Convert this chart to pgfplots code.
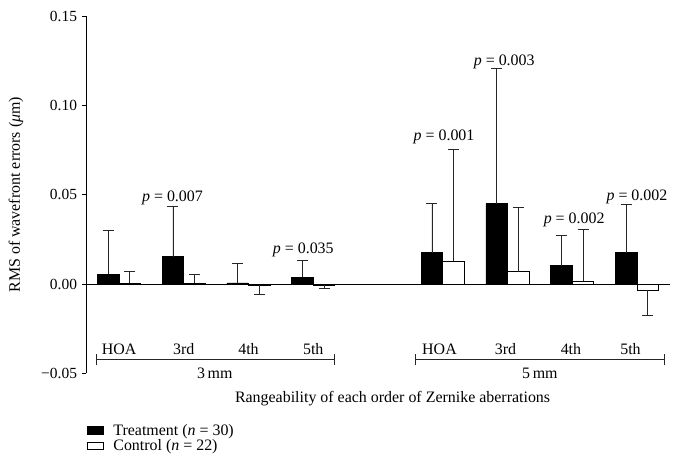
\documentclass[border=0pt]{standalone}
\usepackage{fontspec}
\setmainfont{Liberation Serif}
\usepackage{pgfplots}
\usepackage{pgfplotstable}
\pgfplotsset{compat=1.18}

% x = category position (3 mm: 0-3, 5 mm: 5-8) shifted to bar centre
\pgfplotstableread{
x y e
-0.1667 0.0055 0.0245
0.8333 0.0153 0.0280
1.8333 0.0006 0.0110
2.8333 0.0039 0.0091
4.8333 0.0175 0.0275
5.8333 0.0450 0.0756
6.8333 0.0103 0.0170
7.8333 0.0175 0.0271
}\treatment

\pgfplotstableread{
x y e
0.1667 0.0005 0.0065
1.1667 0.0003 0.0053
5.1667 0.0127 0.0629
6.1667 0.0069 0.0361
7.1667 0.0017 0.0287
}\controlpos

\pgfplotstableread{
x y e
2.1667 -0.0008 0.0052
3.1667 -0.0005 0.0019
8.1667 -0.0035 0.0143
}\controlneg

\begin{document}
\begin{tikzpicture}
\begin{axis}[
  at={(0,0)}, anchor=south west,
  scale only axis,
  width=584bp, height=357.2bp,
  xmin=-0.51, xmax=8.51,
  ymin=-0.05, ymax=0.15,
  axis x line=none,
  axis y line*=left,
  ytick={-0.05,0,0.05,0.10,0.15},
  yticklabels={−0.05,0.00,0.05,0.10,0.15},
  tick align=outside,
  major tick length=4bp,
  ytick pos=left,
  yticklabel style={font=\fontsize{15.5}{17}\selectfont, xshift=-1.5bp},
  axis line style={line width=0.8bp},
  every tick/.style={line width=0.8bp, black},
  clip=false,
  ylabel={RMS of wavefront errors (\textit{μ}m)},
  ylabel style={at={(axis description cs:0,0.5)}, anchor=center, yshift=70bp, font=\fontsize{16}{18}\selectfont},
  legend style={at={(rel axis cs:0,0)}, anchor=north west, xshift=-2bp, yshift=-47bp,
    draw=none, fill=none, font=\fontsize{16}{18}\selectfont, row sep=0bp,
    nodes={inner sep=1.5bp}},
  legend cell align=left,
  legend image code/.code={\draw[#1, line width=0.7bp] (0bp,-3.6bp) rectangle (15.5bp,3.6bp); \path (24bp,0bp);},
  error bars/error bar style={line width=0.8bp, black!85},
  error bars/error mark options={rotate=90, line width=0.8bp, black!85, mark size=5.5bp},
]
\addplot[ybar, bar width=0.333, bar shift=0, fill=black, draw=black, line width=0.7bp,
  error bars/.cd, y dir=plus, y explicit]
  table[x=x, y=y, y error=e] {\treatment};
\addlegendentry{Treatment (\textit{n} = 30)}
\addplot[ybar, bar width=0.333, bar shift=0, fill=white, draw=black, line width=0.7bp,
  error bars/.cd, y dir=plus, y explicit]
  table[x=x, y=y, y error=e] {\controlpos};
\addlegendentry{Control (\textit{n} = 22)}
\addplot[ybar, bar width=0.333, bar shift=0, fill=white, draw=black, line width=0.7bp, forget plot,
  error bars/.cd, y dir=minus, y explicit]
  table[x=x, y=y, y error=e] {\controlneg};
\addplot[black, line width=0.8bp, forget plot] coordinates {(-0.51,0) (8.51,0)};

% p-values
\begin{scope}[every node/.style={font=\fontsize{16}{18}\selectfont}]
\node at (axis cs:0.826,0.048) {\textit{p} = 0.007};
\node at (axis cs:2.846,0.019) {\textit{p} = 0.035};
\node at (axis cs:5.02,0.0821) {\textit{p} = 0.001};
\node at (axis cs:5.95,0.1245) {\textit{p} = 0.003};
\node at (axis cs:7.03,0.0358) {\textit{p} = 0.002};
\node at (axis cs:8.0,0.0489) {\textit{p} = 0.002};
% category labels
\node at (axis cs:0,-0.0364) {HOA};
\node at (axis cs:1,-0.0364) {3rd};
\node at (axis cs:2,-0.0364) {4th};
\node at (axis cs:3,-0.0364) {5th};
\node at (axis cs:4.95,-0.0364) {HOA};
\node at (axis cs:5.97,-0.0364) {3rd};
\node at (axis cs:6.98,-0.0364) {4th};
\node at (axis cs:7.9,-0.0364) {5th};
% group labels
\node at (axis cs:1.48,-0.0498) {3\,mm};
\node at (axis cs:6.5,-0.0498) {5\,mm};
\node at (axis cs:4.225,-0.0644) {Rangeability of each order of Zernike aberrations};
\end{scope}
\draw[line width=0.8bp, black!85] (axis cs:-0.355,-0.0423) -- (axis cs:3.32,-0.0423);
\draw[line width=0.8bp, black!85] (axis cs:-0.355,-0.0392) -- (axis cs:-0.355,-0.0454);
\draw[line width=0.8bp, black!85] (axis cs:3.32,-0.0392) -- (axis cs:3.32,-0.0454);
\draw[line width=0.8bp, black!85] (axis cs:4.58,-0.0423) -- (axis cs:8.43,-0.0423);
\draw[line width=0.8bp, black!85] (axis cs:4.58,-0.0392) -- (axis cs:4.58,-0.0454);
\draw[line width=0.8bp, black!85] (axis cs:8.43,-0.0392) -- (axis cs:8.43,-0.0454);
\end{axis}
\pgfresetboundingbox
\useasboundingbox (-86bp,-95.7bp) rectangle (595bp,373.3bp);
\end{tikzpicture}
\end{document}
